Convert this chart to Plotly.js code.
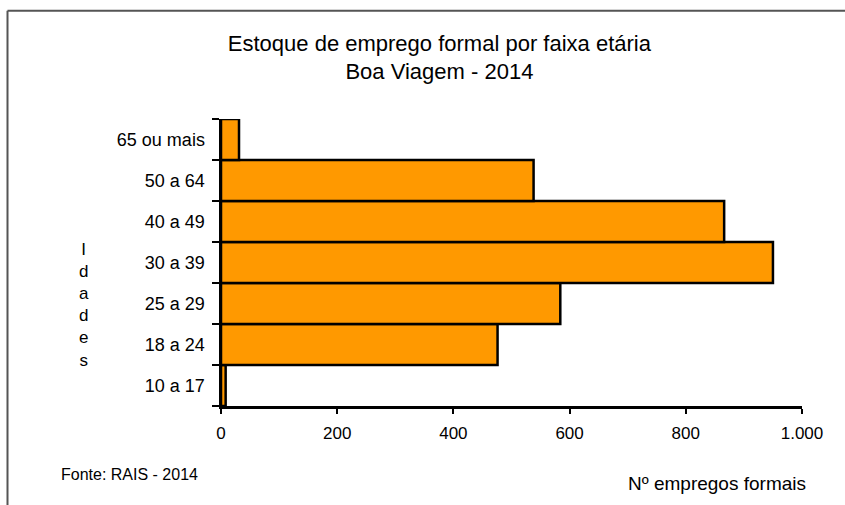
<!DOCTYPE html>
<html>
<head>
<meta charset="utf-8">
<script src="https://cdn.plot.ly/plotly-3.0.1.min.js"></script>
<style>
  html, body { margin: 0; padding: 0; background: #ffffff; }
  #chart { width: 845px; height: 505px; }
</style>
</head>
<body>
<div id="chart"></div>
<script>
// Data
const categories = ["10 a 17", "18 a 24", "25 a 29", "30 a 39", "40 a 49", "50 a 64", "65 ou mais"];
const empregos = [8, 476, 584, 950, 866, 538, 31];
const xTickVals = [0, 200, 400, 600, 800, 1000];
const xTickText = ["0", "200", "400", "600", "800", "1.000"];

const titleText = "Estoque de emprego formal por faixa etária<br>Boa Viagem - 2014";
const yTitleText = "I<br>d<br>a<br>d<br>e<br>s";
const sourceText = "Fonte: RAIS - 2014";
const xTitleText = "Nº empregos formais";

const FONT = "Liberation Sans, Arial, sans-serif";

const trace = {
  type: "bar",
  orientation: "h",
  y: categories,
  x: empregos,
  marker: {
    color: "#FF9900",
    line: { color: "#000000", width: 2.5 }
  },
  hoverinfo: "x+y"
};

const layout = {
  width: 845,
  height: 505,
  margin: { l: 221, r: 43, t: 119, b: 99 },
  paper_bgcolor: "#ffffff",
  plot_bgcolor: "#ffffff",
  showlegend: false,
  bargap: 0,
  font: { family: FONT, color: "#000000" },
  title: {
    text: titleText,
    font: { family: FONT, size: 22, color: "#000000" },
    x: 0.52, xanchor: "center", xref: "container",
    y: 0.9, yanchor: "top", yref: "container"
  },
  xaxis: {
    range: [0, 1000],
    tickmode: "array",
    tickvals: xTickVals,
    ticktext: xTickText,
    showgrid: false,
    zeroline: false,
    showline: true,
    linecolor: "#000000",
    linewidth: 2.5,
    ticks: "outside",
    ticklen: 5,
    tickwidth: 2,
    tickcolor: "#000000",
    ticklabelstandoff: 5,
    tickfont: { family: FONT, size: 17, color: "#000000" },
    fixedrange: true
  },
  yaxis: {
    type: "category",
    categoryorder: "array",
    categoryarray: categories,
    showgrid: false,
    zeroline: false,
    showline: true,
    linecolor: "#000000",
    linewidth: 2.5,
    ticks: "outside",
    tickson: "boundaries",
    ticklen: 7,
    tickwidth: 2,
    tickcolor: "#000000",
    ticklabelstandoff: 10,
    tickfont: { family: FONT, size: 18, color: "#000000" },
    fixedrange: true
  },
  annotations: [
    {
      text: yTitleText,
      xref: "paper", yref: "paper",
      x: (84 - 221) / 581, y: (406 - 305) / 287,
      xanchor: "center", yanchor: "middle",
      showarrow: false, align: "center",
      font: { family: FONT, size: 17, color: "#000000" }
    },
    {
      text: sourceText,
      xref: "paper", yref: "paper",
      x: (59 - 221) / 581, y: (406 - 474) / 287,
      xanchor: "left", yanchor: "middle",
      showarrow: false,
      font: { family: FONT, size: 16, color: "#000000" }
    },
    {
      text: xTitleText,
      xref: "paper", yref: "paper",
      x: (808 - 221) / 581, y: (406 - 483) / 287,
      xanchor: "right", yanchor: "middle",
      showarrow: false,
      font: { family: FONT, size: 19, color: "#000000" }
    }
  ],
  shapes: [
    {
      type: "line", xref: "paper", yref: "paper", layer: "below",
      x0: (7.5 - 221) / 581, x1: (845 - 221) / 581,
      y0: (406 - 10.7) / 287, y1: (406 - 10.7) / 287,
      line: { color: "#555555", width: 2 }
    },
    {
      type: "line", xref: "paper", yref: "paper", layer: "below",
      x0: (7.5 - 221) / 581, x1: (7.5 - 221) / 581,
      y0: (406 - 10.7) / 287, y1: (406 - 505) / 287,
      line: { color: "#555555", width: 2 }
    }
  ]
};

Plotly.newPlot("chart", [trace], layout, { displayModeBar: false, staticPlot: true });
</script>
</body>
</html>
